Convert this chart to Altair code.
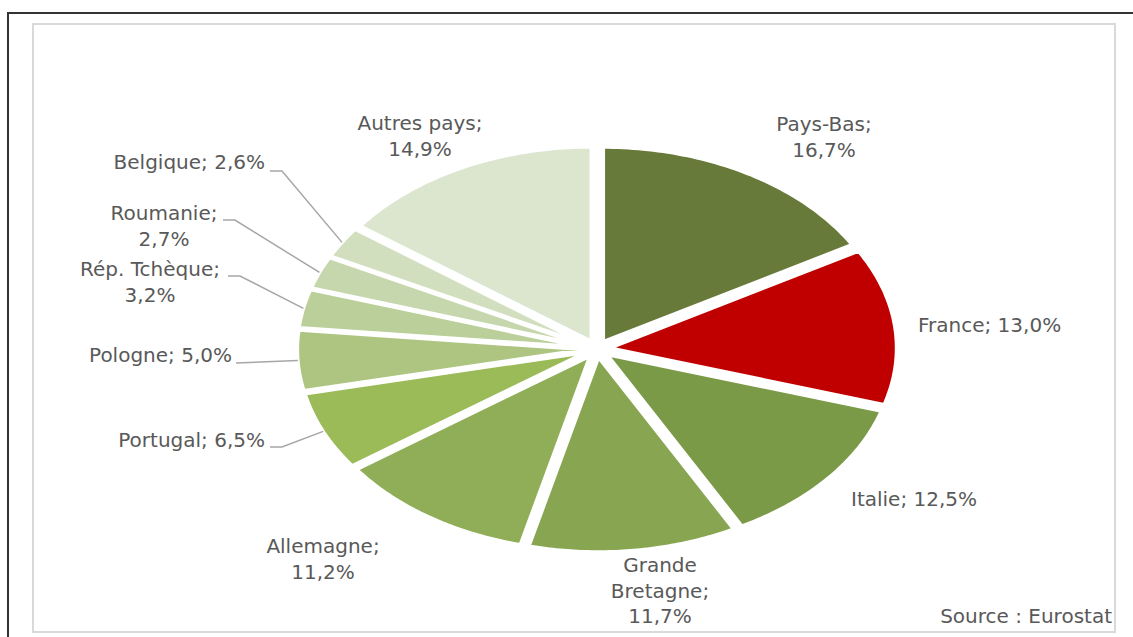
import altair as alt
import numpy as np
import pandas as pd

# ---- data ----
countries = ["Pays-Bas", "France", "Italie", "Grande Bretagne", "Allemagne",
             "Portugal", "Pologne", "Rép. Tchèque", "Roumanie", "Belgique", "Autres pays"]
values = [16.7, 13.0, 12.5, 11.7, 11.2, 6.5, 5.0, 3.2, 2.7, 2.6, 14.9]
label_names = ["Pays-Bas", "France", "Italie", "Grande\nBretagne", "Allemagne",
               "Portugal", "Pologne", "Rép. Tchèque", "Roumanie", "Belgique", "Autres pays"]
source_text = "Source : Eurostat"

# ---- styles / layout ----
colors = ["#687a3a", "#c00000", "#7b9a48", "#88a551", "#8fae57", "#9bbb59",
          "#adc580", "#bacf99", "#c6d7ad", "#d2dfbe", "#dce6cf"]
CX, CY, RX, RY, EXPL = 597, 349, 287, 194.5, 0.044
# label anchors (page px, first line centre): x, y, align, separator
label_layout = {
    "Pays-Bas": (824, 125, "center", ";\n"),
    "France": (918, 326, "left", "; "),
    "Italie": (851, 500, "left", "; "),
    "Grande Bretagne": (660, 566, "center", ";\n"),
    "Allemagne": (323, 547, "center", ";\n"),
    "Portugal": (265, 441, "right", "; "),
    "Pologne": (232, 356, "right", "; "),
    "Rép. Tchèque": (150, 270, "center", ";\n"),
    "Roumanie": (164, 214, "center", ";\n"),
    "Belgique": (265, 163, "right", "; "),
    "Autres pays": (420, 124, "center", ";\n"),
}
leader_starts = {
    "Belgique": (270, 171),
    "Roumanie": (223, 220),
    "Rép. Tchèque": (228, 276),
    "Pologne": (236, 363),
    "Portugal": (270, 447),
}
TEXT_COLOR = "#595959"
FONT = "DejaVu Sans"
FS = 20

df = pd.DataFrame({"country": countries, "value": values,
                   "order": list(range(len(countries)))})

xs = alt.Scale(domain=[33, 1115], nice=False, zero=False)
ys = alt.Scale(domain=[24, 632], nice=False, zero=False, reverse=True)
N = 60

slices = alt.Chart(df).transform_window(
    cum="sum(value)", sort=[alt.SortField("order")], frame=[None, 0]
).transform_calculate(
    a0="2*PI*(datum.cum - datum.value)/100",
    a1="2*PI*datum.cum/100",
).transform_calculate(
    mid="(datum.a0 + datum.a1)/2",
    steps=f"sequence(0, {N + 3})",
).transform_flatten(["steps"]).transform_calculate(
    t=f"datum.steps <= {N} ? datum.a0 + (datum.a1 - datum.a0)*datum.steps/{N} : (datum.steps == {N + 1} ? datum.mid : datum.a0)",
    r=f"datum.steps == {N + 1} ? 0 : 1",
).transform_calculate(
    px=f"{CX} + {RX}*(datum.r*sin(datum.t) + {EXPL}*sin(datum.mid))",
    py=f"{CY} - {RY}*(datum.r*cos(datum.t) + {EXPL}*cos(datum.mid))",
).mark_line(stroke="white", strokeWidth=3.5, strokeJoin="miter", interpolate="linear").encode(
    x=alt.X("px:Q", scale=xs, axis=None),
    y=alt.Y("py:Q", scale=ys, axis=None),
    fill=alt.Fill("country:N", scale=alt.Scale(domain=countries, range=colors), legend=None),
    detail="country:N",
    order=alt.Order("steps:Q"),
)

# labels
def fmt(v):
    return f"{v:.1f}".replace(".", ",") + "%"

rows = []
for c, n, v in zip(countries, label_names, values):
    x, y, al, sep = label_layout[c]
    rows.append({"text": n + sep + fmt(v), "lx": x, "ly": y, "al": al})
lab = pd.DataFrame(rows)

text_layers = []
for al in ["left", "center", "right"]:
    text_layers.append(
        alt.Chart(lab).transform_filter(alt.datum.al == al).mark_text(
            align=al, baseline="middle", font=FONT, fontSize=FS, color=TEXT_COLOR,
            lineBreak="\n", lineHeight=25.5
        ).encode(x=alt.X("lx:Q", scale=xs), y=alt.Y("ly:Q", scale=ys), text="text:N")
    )

# leader lines (end on slice edge at mid-angle)
cum = np.cumsum(values)
mids = 2 * np.pi * (cum - np.array(values) / 2) / 100
lrows = []
for c, m in zip(countries, mids):
    if c not in leader_starts:
        continue
    sx, sy = leader_starts[c]
    ex = CX + RX * (1 + EXPL) * np.sin(m)
    ey = CY - RY * (1 + EXPL) * np.cos(m)
    pts = [(sx, sy), (sx + 12, sy), (ex, ey)] if c != "Pologne" else [(sx, sy), (ex, ey)]
    for i, (px, py) in enumerate(pts):
        lrows.append({"country": c, "i": i, "px": px, "py": py})
ldf = pd.DataFrame(lrows)
leaders = alt.Chart(ldf).mark_line(color="#a6a6a6", strokeWidth=1.5).encode(
    x=alt.X("px:Q", scale=xs), y=alt.Y("py:Q", scale=ys),
    detail="country:N", order="i:Q"
)

src = alt.Chart(pd.DataFrame({"t": [source_text], "x": [1112], "y": [617]})).mark_text(
    align="right", baseline="middle", font=FONT, fontSize=FS, color=TEXT_COLOR
).encode(x=alt.X("x:Q", scale=xs), y=alt.Y("y:Q", scale=ys), text="t:N")

frame_top = alt.Chart(pd.DataFrame({"a": [0]})).mark_rule(color="#333333", strokeWidth=2, clip=False).encode(
    x=alt.value(-25), x2=alt.value(1100), y=alt.value(-11))
frame_left = alt.Chart(pd.DataFrame({"a": [0]})).mark_rule(color="#333333", strokeWidth=2, clip=False).encode(
    x=alt.value(-25), y=alt.value(-12), y2=alt.value(613))

chart = alt.layer(slices, leaders, *text_layers, src, frame_top, frame_left).properties(
    width=1082, height=608,
    padding={"left": 33, "top": 24, "right": 18, "bottom": 5},
    autosize=alt.AutoSizeParams(type="none"),
    background="white",
).configure_view(stroke="#d9d9d9", strokeWidth=2)

chart.save("out.html", embed_options={"renderer": "svg", "actions": False})
